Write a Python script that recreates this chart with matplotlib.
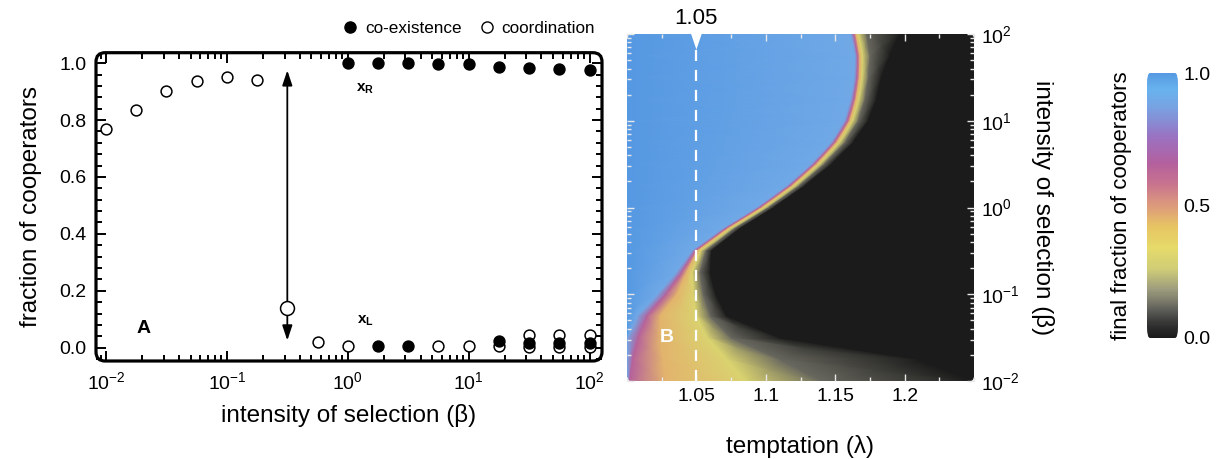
import numpy as np
import matplotlib
matplotlib.use('Agg')
import matplotlib.pyplot as plt
import matplotlib.transforms as mtransforms
from matplotlib.colors import LinearSegmentedColormap
from matplotlib.patches import FancyBboxPatch, Polygon
from matplotlib.lines import Line2D
from matplotlib.ticker import AutoMinorLocator, LogLocator, NullFormatter, FixedLocator, MultipleLocator

plt.rcParams['font.family'] = ['Liberation Sans', 'DejaVu Sans']
plt.rcParams['mathtext.fontset'] = 'custom'
plt.rcParams['mathtext.rm'] = 'Liberation Sans'
plt.rcParams['mathtext.it'] = 'Liberation Sans:italic'
plt.rcParams['mathtext.bf'] = 'Liberation Sans:bold'

# ---- panel A: fixed points vs intensity of selection ----
# coordination (open circles)
beta_coord = [0.01, 0.0178, 0.0316, 0.0562, 0.1, 0.178,
              0.562, 1.0, 5.62, 10.0,
              17.8, 31.6, 31.6, 56.2, 56.2, 100.0, 100.0]
x_coord = [0.769, 0.835, 0.902, 0.937, 0.952, 0.940,
           0.019, 0.006, 0.007, 0.004,
           0.004, 0.046, 0.001, 0.046, 0.001, 0.046, 0.001]
# unstable interior point
beta_unstable = [0.316]
x_unstable = [0.139]
# co-existence (filled circles)
beta_coex = [1.0, 1.78, 3.16, 5.62, 10.0, 17.8, 31.6, 56.2, 100.0,
             1.78, 3.16, 17.8, 31.6, 56.2, 100.0]
x_coex = [1.0, 1.0, 1.0, 0.999, 0.996, 0.988, 0.984, 0.978, 0.976,
          0.004, 0.004, 0.024, 0.015, 0.015, 0.015]

# ---- panel B: final fraction of cooperators over (lambda, beta) ----
# rows of log10(beta); for every row the lambda where the field falls to each level
log_beta_rows = [-2.0, -1.75, -1.5, -1.25, -1.0, -0.75, -0.5, -0.25, 0.0,
                 0.25, 0.5, 0.75, 1.0, 1.25, 1.5, 1.75, 2.0]
field_levels = [1.0, 0.9, 0.65, 0.45, 0.3, 0.12, 0.0, 0.0]
lam_crossings = [
    [1.0000, 1.0020, 1.0280, 1.0850, 1.1400, 1.2500],
    [1.0000, 1.0040, 1.0260, 1.0720, 1.1100, 1.2100],
    [1.0000, 1.0080, 1.0240, 1.0580, 1.0750, 1.1100],
    [1.0074, 1.0146, 1.0240, 1.0500, 1.0600, 1.0720],
    [1.0219, 1.0281, 1.0360, 1.0480, 1.0550, 1.0640],
    [1.0353, 1.0394, 1.0430, 1.0470, 1.0526, 1.0600],
    [1.0466, 1.0492, 1.0509, 1.0531, 1.0569, 1.0610],
    [1.0682, 1.0706, 1.0723, 1.0742, 1.0771, 1.0809],
    [1.0934, 1.0958, 1.0975, 1.0994, 1.1023, 1.1059],
    [1.1150, 1.1174, 1.1191, 1.1210, 1.1242, 1.1282],
    [1.1326, 1.1350, 1.1369, 1.1388, 1.1422, 1.1475],
    [1.1470, 1.1494, 1.1513, 1.1532, 1.1571, 1.1631],
    [1.1566, 1.1590, 1.1607, 1.1626, 1.1667, 1.1739],
    [1.1611, 1.1635, 1.1652, 1.1671, 1.1715, 1.1799],
    [1.1638, 1.1659, 1.1676, 1.1695, 1.1739, 1.1835],
    [1.1643, 1.1662, 1.1679, 1.1698, 1.1751, 1.1895],
    [1.1611, 1.1635, 1.1650, 1.1669, 1.1727, 1.1967],
]
lam_min, lam_max = 1.0, 1.25

cmap = LinearSegmentedColormap.from_list('coop', [
    (0.00, '#1b1b1b'), (0.04, '#2c2c2c'), (0.10, '#5a5a56'),
    (0.18, '#9c9b7e'), (0.26, '#cfcd76'), (0.34, '#e6da6a'),
    (0.42, '#e7c463'), (0.50, '#dc9a7c'), (0.58, '#c8748e'),
    (0.66, '#b4609e'), (0.76, '#9a72c2'), (0.87, '#78a2e2'),
    (0.94, '#68b2ee'), (1.00, '#5699e2')])

W, H = 1221, 459
fig = plt.figure(figsize=(W / 100, H / 100), dpi=100)

# ================= panel A =================
axA = fig.add_axes([96 / W, 1 - 361 / H, 506 / W, 308.3 / H])
axA.set_xscale('log')
axA.set_xlim(10 ** -2.083, 10 ** 2.103)
axA.set_ylim(-0.047, 1.037)

axA.annotate('', xy=(0.316, 0.975), xytext=(0.316, 0.025),
             arrowprops=dict(arrowstyle='<|-|>,head_length=0.9,head_width=0.3',
                             color='black', lw=1.3, shrinkA=0, shrinkB=0))
axA.plot(beta_coord, x_coord, 'o', ms=7.8, mfc='white', mec='black', mew=1.1,
         ls='none', zorder=3, clip_on=False)
axA.plot(beta_unstable, x_unstable, 'o', ms=10, mfc='white', mec='black', mew=1.1,
         ls='none', zorder=3)
axA.plot(beta_coex, x_coex, 'o', ms=7.8, mfc='black', mec='black', mew=1.1,
         ls='none', zorder=4, clip_on=False)

axA.text(1.4, 0.91, r'$\mathbf{x}_\mathbf{R}$', fontsize=11, ha='center', va='center')
axA.text(1.4, 0.095, r'$\mathbf{x}_\mathbf{L}$', fontsize=11, ha='center', va='center')
axA.text(0.0205, 0.067, 'A', fontsize=14, fontweight='bold', ha='center', va='center')

for s in axA.spines.values():
    s.set_visible(False)
frameA = FancyBboxPatch((0, 0), 1, 1, boxstyle='round,pad=0,rounding_size=0.018',
                        mutation_aspect=506 / 308.3, transform=axA.transAxes,
                        fill=False, lw=2.3, ec='black', clip_on=False, zorder=6)
axA.add_patch(frameA)

axA.xaxis.set_major_locator(LogLocator(base=10, numticks=10))
axA.xaxis.set_minor_locator(LogLocator(base=10, subs=np.arange(2, 10), numticks=20))
axA.xaxis.set_minor_formatter(NullFormatter())
axA.set_yticks([0, 0.2, 0.4, 0.6, 0.8, 1.0])
axA.set_yticklabels(['0.0', '0.2', '0.4', '0.6', '0.8', '1.0'])
axA.yaxis.set_minor_locator(AutoMinorLocator(5))
axA.tick_params(which='both', direction='in', top=True, right=True, width=1.4,
                labelsize=14)
axA.tick_params(which='major', length=7, pad=7)
axA.tick_params(which='minor', length=4)
axA.set_xlabel('intensity of selection (β)', fontsize=17.5, labelpad=8)
axA.set_ylabel('fraction of cooperators', fontsize=17.5, labelpad=12)

handles = [Line2D([], [], marker='o', ls='none', ms=8, mfc='black', mec='black'),
           Line2D([], [], marker='o', ls='none', ms=8, mfc='white', mec='black', mew=1.0)]
axA.legend(handles, ['co-existence', 'coordination'], loc='center right',
           bbox_to_anchor=(1.0, 1.08), ncol=2, frameon=False, fontsize=12.3,
           handletextpad=0.35, columnspacing=1.0, handlelength=1.0, borderaxespad=0)

# ================= panel B =================
axB = fig.add_axes([627 / W, 1 - 381 / H, 347 / W, 347 / H])
n_rows = len(log_beta_rows)
lam_grid = np.column_stack([np.full(n_rows, lam_min), np.array(lam_crossings),
                            np.full(n_rows, lam_max)])
beta_grid = np.repeat(10.0 ** np.array(log_beta_rows)[:, None], lam_grid.shape[1], axis=1)
field = np.tile(field_levels, (n_rows, 1))
mesh = axB.pcolormesh(lam_grid, beta_grid, field, shading='gouraud', cmap=cmap,
                      vmin=0, vmax=1, rasterized=True)
axB.set_yscale('log')
axB.set_xlim(lam_min, lam_max)
axB.set_ylim(1e-2, 1e2)
clipB = FancyBboxPatch((0, 0), 1, 1, boxstyle='round,pad=0,rounding_size=0.015',
                       transform=axB.transAxes, fc='none', ec='none')
mesh.set_clip_path(clipB)

axB.axvline(1.05, color='white', lw=1.6, ls=(0, (5, 4)), zorder=3)
tB = mtransforms.blended_transform_factory(axB.transData, axB.transAxes)
axB.add_patch(Polygon([(1.0462, 1.0), (1.0538, 1.0), (1.05, 0.955)], closed=True,
                      fc='white', ec='none', transform=tB, zorder=4))
axB.text(1.05, 1.045, '1.05', transform=tB, fontsize=16, ha='center', va='center')
axB.text(1.0285, 10 ** -1.5, 'B', color='white', fontsize=14, fontweight='bold',
         ha='center', va='center', zorder=5)

for s in axB.spines.values():
    s.set_visible(False)
axB.xaxis.set_major_locator(FixedLocator([1.05, 1.1, 1.15, 1.2]))
axB.set_xticklabels(['1.05', '1.1', '1.15', '1.2'])
axB.xaxis.set_minor_locator(MultipleLocator(0.025))
axB.yaxis.set_major_locator(LogLocator(base=10, numticks=10))
axB.yaxis.set_minor_locator(LogLocator(base=10, subs=np.arange(2, 10), numticks=20))
axB.yaxis.set_minor_formatter(NullFormatter())
axB.tick_params(which='both', direction='in', top=True, bottom=True, left=True,
                right=True, labelleft=False, labelright=True, color='#e8e8e8',
                labelcolor='black', labelsize=14, width=1.0)
axB.tick_params(which='major', length=5, pad=5)
axB.tick_params(which='minor', length=3)
axB.set_xlabel('temptation (λ)', fontsize=17.5, labelpad=22)
axB.yaxis.set_label_position('right')
axB.set_ylabel('intensity of selection (β)', fontsize=17.5, rotation=270, labelpad=25)

# ================= colour bar =================
cax = fig.add_axes([1147 / W, 1 - 338 / H, 31 / W, 265 / H])
cb = fig.colorbar(mesh, cax=cax, ticks=[0.0, 0.5, 1.0])
cb.ax.set_yticklabels(['0.0', '0.5', '1.0'])
cb.outline.set_visible(False)
cb.ax.tick_params(length=0, labelsize=14, pad=4)
clipC = FancyBboxPatch((0, 0), 1, 1, boxstyle='round,pad=0,rounding_size=0.1',
                       mutation_aspect=265 / 31 * 0.1 * 0.5, transform=cax.transAxes,
                       fc='none', ec='none')
cb.solids.set_clip_path(clipC)
fig.text(1121 / W, 1 - 205.5 / H, 'final fraction of cooperators', fontsize=16,
         rotation=90, ha='center', va='center')

fig.savefig('out.png', dpi=100)
